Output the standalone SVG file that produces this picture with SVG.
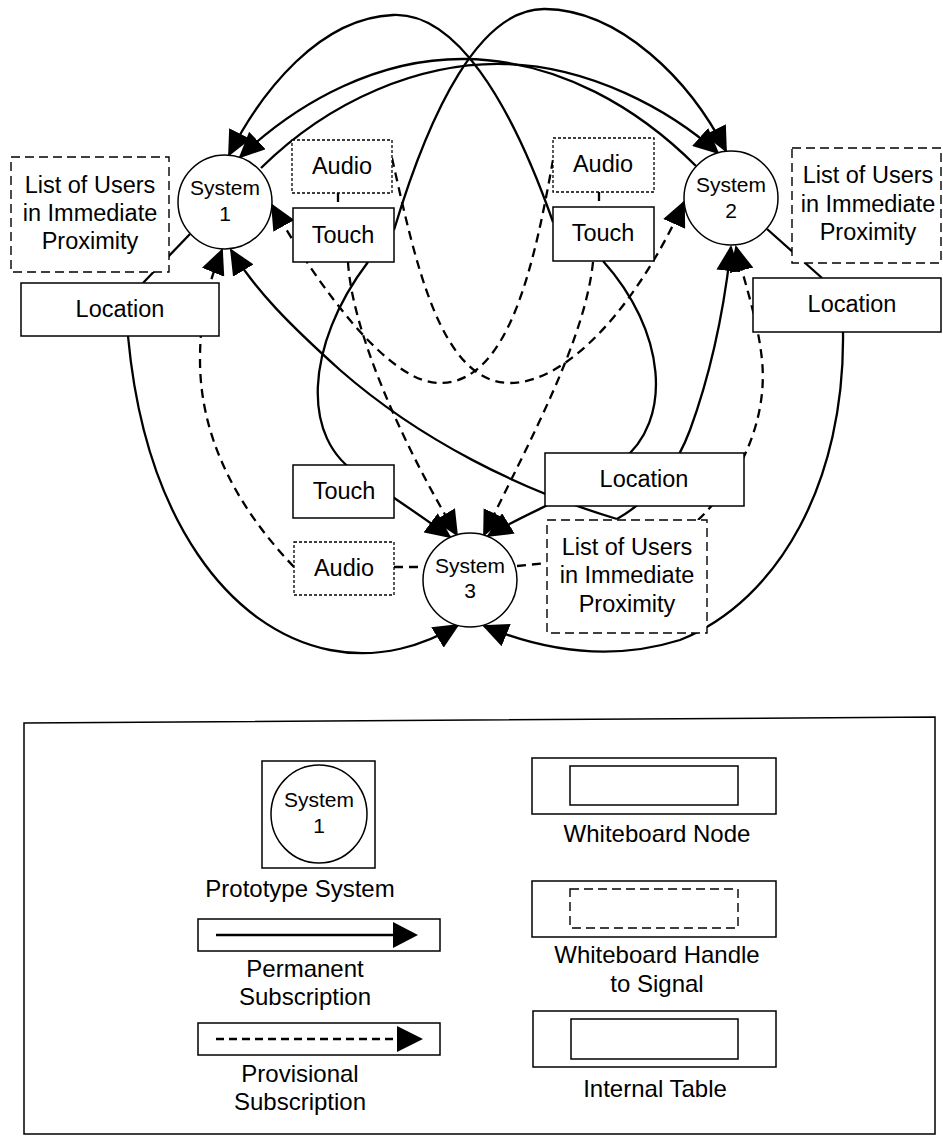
<svg xmlns="http://www.w3.org/2000/svg" width="943" height="1136" viewBox="0 0 943 1136">
<defs>
<style>
text{font-family:"Liberation Sans",Arial,sans-serif;fill:#000;text-anchor:middle}
.t{font-size:23.5px}
.sys{font-size:21px}
.lg{font-size:24px}
.box{fill:#fff;stroke:#000;stroke-width:1.5}
.dbox{fill:#fff;stroke:#000;stroke-width:1.4;stroke-dasharray:9 5}
.obox{fill:#fff;stroke:#000;stroke-width:1.3;stroke-dasharray:3 2}
.circ{fill:#fff;stroke:#000;stroke-width:1.5}
.sol{fill:none;stroke:#000;stroke-width:2.3}
.das{fill:none;stroke:#000;stroke-width:2.3;stroke-dasharray:9 6}
.arr{marker-end:url(#ah)}
</style>
<marker id="ah" markerUnits="userSpaceOnUse" markerWidth="26" markerHeight="24" viewBox="0 0 26 24" refX="24" refY="12" orient="auto"><path d="M0,0 L26,12 L0,24 z" fill="#000"/></marker>
</defs>
<rect width="943" height="1136" fill="#fff"/>
<g id="connectors">
<path class="sol arr" d="M553,222 C510,100 455,12 393,15 C320,18 262,90 229,155"/>
<path class="sol arr" d="M394,230 C430,110 480,8 545,9 C620,10 690,80 726,151"/>
<path class="sol arr" d="M261,168 C330,100 420,62 505,64 C590,66 670,110 718,153"/>
<path class="sol arr" d="M696,166 C640,110 560,60 465,59 C380,58 300,100 240,157"/>
<path class="das arr" d="M553,160 C535,260 510,383 440,383 C390,384 320,290 272,205"/>
<path class="das arr" d="M392,158 C415,260 440,383 510,383 C570,383 640,300 684,202"/>
<path class="das arr" d="M348,262 C352,330 400,440 457,535"/>
<path class="das arr" d="M593,262 C585,340 530,440 484,535"/>
<path class="sol arr" d="M368,262 C305,345 300,440 360,475 C390,495 420,515 450,537"/>
<path class="sol arr" d="M603,261 C665,330 675,420 620,462 C580,495 530,510 488,536"/>
<path class="sol arr" d="M617,519 C520,490 420,440 340,370 C290,325 255,290 231,250"/>
<path class="sol arr" d="M617,519 C650,500 675,470 690,430 C712,370 724,310 731,247"/>
<path class="das arr" d="M294,567 C230,500 200,430 200,360 C200,310 210,280 222,250"/>
<path class="das arr" d="M698,520 C740,480 768,420 762,360 C758,320 745,285 736,247"/>
<path class="sol arr" d="M128,336 C145,520 230,630 330,650 C380,660 425,645 458,625"/>
<path class="sol arr" d="M843,332 C845,480 780,600 680,640 C600,665 530,645 484,626"/>
<path class="sol" d="M190,234 L143,283"/>
<path class="sol" d="M767,229 L822,278"/>
<path class="das" d="M338,193 V208 M599,192 V207 M394,567 H423 M517,566 L547,563"/>
</g>
<g id="list1"><rect class="dbox" x="11" y="157" width="158" height="115"/><text class="t" x="90" y="193">List of Users</text><text class="t" x="90" y="221">in Immediate</text><text class="t" x="90" y="249">Proximity</text></g>
<g id="loc1"><rect class="box" x="21" y="283" width="198" height="53"/><text class="t" x="120" y="317">Location</text></g>
<g id="sys1"><circle class="circ" cx="225" cy="202" r="47"/><text class="sys" x="225" y="195">System</text><text class="sys" x="225" y="221">1</text></g>
<g id="audio1"><rect class="obox" x="292" y="140" width="100" height="53"/><text class="t" x="342" y="174">Audio</text></g>
<g id="touch1"><rect class="box" x="293" y="208" width="101" height="54"/><text class="t" x="343" y="243">Touch</text></g>
<g id="audio2"><rect class="obox" x="553" y="138" width="101" height="54"/><text class="t" x="603" y="172">Audio</text></g>
<g id="touch2"><rect class="box" x="553" y="207" width="101" height="54"/><text class="t" x="603" y="241">Touch</text></g>
<g id="sys2"><circle class="circ" cx="731" cy="198" r="47"/><text class="sys" x="731" y="192">System</text><text class="sys" x="731" y="218">2</text></g>
<g id="list2"><rect class="dbox" x="792" y="148" width="149" height="115"/><text class="t" x="868" y="183">List of Users</text><text class="t" x="868" y="212">in Immediate</text><text class="t" x="868" y="240">Proximity</text></g>
<g id="loc2"><rect class="box" x="753" y="278" width="188" height="54"/><text class="t" x="852" y="312">Location</text></g>
<g id="touch3"><rect class="box" x="293" y="465" width="101" height="53"/><text class="t" x="344" y="499">Touch</text></g>
<g id="audio3"><rect class="obox" x="294" y="542" width="100" height="53"/><text class="t" x="344" y="576">Audio</text></g>
<g id="sys3"><circle class="circ" cx="470" cy="580" r="47"/><text class="sys" x="470" y="573">System</text><text class="sys" x="470" y="598">3</text></g>
<g id="loc3"><rect class="box" x="545" y="453" width="199" height="53"/><text class="t" x="644" y="487">Location</text></g>
<g id="list3"><rect class="dbox" x="547" y="520" width="160" height="113"/><text class="t" x="627" y="555">List of Users</text><text class="t" x="627" y="583">in Immediate</text><text class="t" x="627" y="612">Proximity</text></g>
<g id="legend">
<path d="M24,723 L935,717 L935,1134 L24,1134 Z" fill="none" stroke="#000" stroke-width="1.5"/>
<rect class="box" x="262" y="761" width="113" height="107"/>
<ellipse class="circ" cx="319" cy="814" rx="48" ry="49"/>
<text class="sys" x="319" y="807">System</text><text class="sys" x="319" y="833">1</text>
<text class="lg" x="300" y="897">Prototype System</text>
<rect class="box" x="198" y="919" width="242" height="32"/>
<path d="M216,935 H396" stroke="#000" stroke-width="2.3"/>
<path d="M393,922 L418,935 L393,948 z" fill="#000"/>
<text class="lg" x="305" y="977">Permanent</text><text class="lg" x="305" y="1005">Subscription</text>
<rect class="box" x="198" y="1023" width="242" height="32"/>
<path d="M216,1039 H400" stroke="#000" stroke-width="2.3" stroke-dasharray="8 5"/>
<path d="M397,1026 L423,1039 L397,1052 z" fill="#000"/>
<text class="lg" x="300" y="1082">Provisional</text><text class="lg" x="300" y="1110">Subscription</text>
<rect class="box" x="532" y="758" width="244" height="56"/>
<rect class="box" x="570" y="766" width="168" height="39"/>
<text class="lg" x="657" y="842">Whiteboard Node</text>
<rect class="box" x="532" y="881" width="244" height="56"/>
<rect class="dbox" x="570" y="889" width="168" height="39"/>
<text class="lg" x="657" y="963">Whiteboard Handle</text><text class="lg" x="657" y="992">to Signal</text>
<rect class="box" x="533" y="1011" width="243" height="56"/>
<rect class="box" x="571" y="1019" width="167" height="40"/>
<text class="lg" x="655" y="1097">Internal Table</text>
</g>
</svg>
